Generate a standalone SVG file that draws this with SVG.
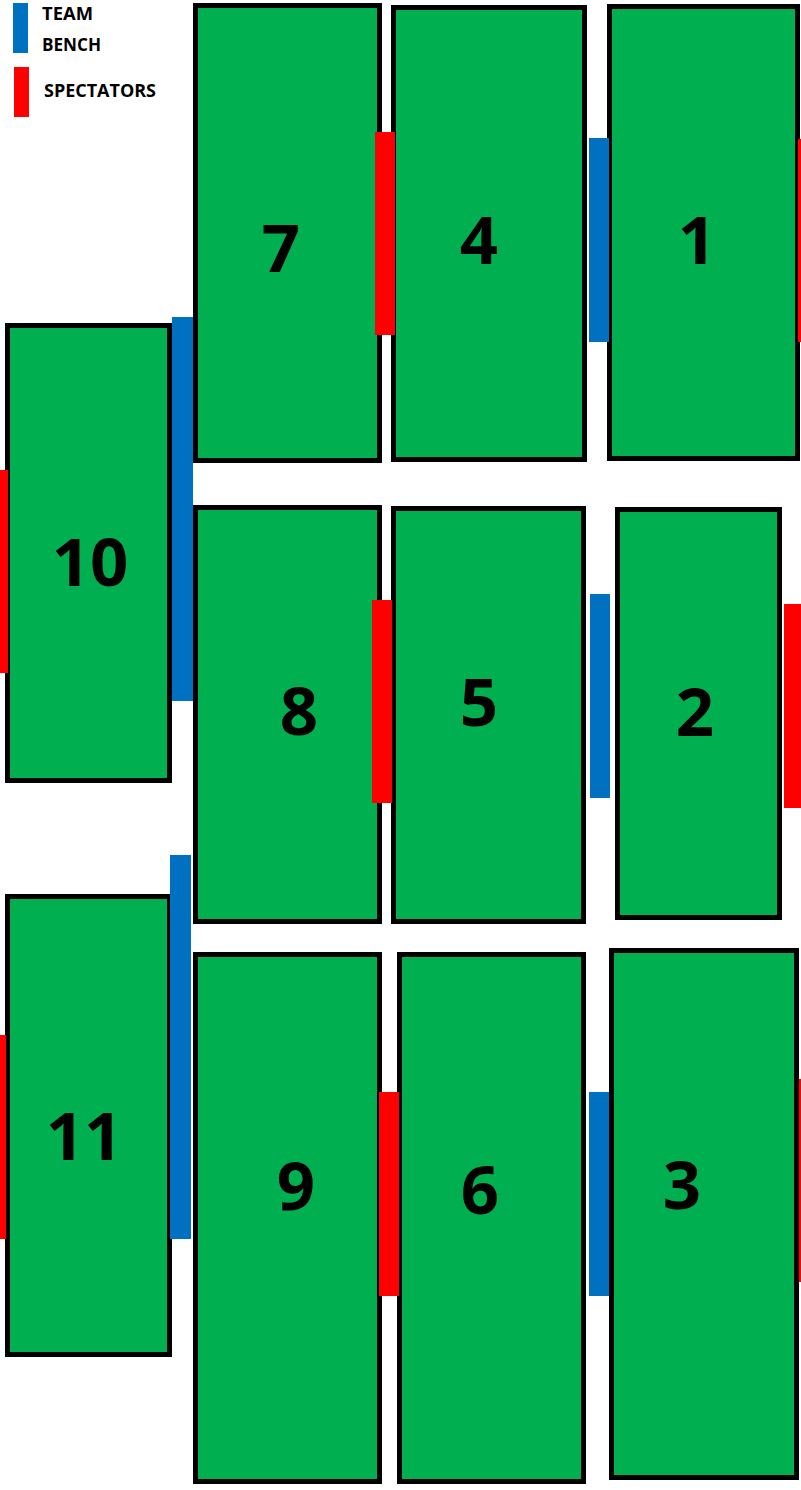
<svg xmlns="http://www.w3.org/2000/svg" width="801" height="1490" viewBox="0 0 801 1490">
<style>
.field{fill:#00B050;stroke:#000;stroke-width:5}
.num{font-family:"Open Sans","DejaVu Sans",sans-serif;font-weight:bold;font-size:67px;fill:#000;text-anchor:middle}
.leg{font-family:"Open Sans","DejaVu Sans",sans-serif;font-weight:bold;font-size:17px;fill:#000}
.bench{fill:#0070C0}
.spec{fill:#FF0000}
</style>
<rect width="801" height="1490" fill="#fff"/>
<g id="legend">
<rect class="bench" x="13" y="3" width="15" height="50"/>
<rect class="spec" x="14" y="67" width="15" height="50"/>
<text class="leg" x="42" y="20" textLength="51" lengthAdjust="spacingAndGlyphs">TEAM</text>
<text class="leg" x="42" y="51" textLength="59" lengthAdjust="spacingAndGlyphs">BENCH</text>
<text class="leg" x="44" y="97" textLength="112" lengthAdjust="spacingAndGlyphs">SPECTATORS</text>
</g>
<g id="field7"><rect class="field" x="195.5" y="5.5" width="184" height="455"/><text class="num" x="281" y="272">7</text></g>
<g id="field4"><rect class="field" x="393.5" y="7.5" width="191" height="452"/><text class="num" x="479" y="264">4</text></g>
<g id="field1"><rect class="field" x="609.5" y="6.5" width="188" height="452"/><text class="num" x="697" y="264">1</text></g>
<g id="field10"><rect class="field" x="7.5" y="325.5" width="162" height="455"/><text class="num" x="90" y="586">10</text></g>
<g id="field8"><rect class="field" x="195.5" y="507.5" width="184" height="414"/><text class="num" x="299" y="735">8</text></g>
<g id="field5"><rect class="field" x="393.5" y="508.5" width="190" height="413"/><text class="num" x="479" y="726">5</text></g>
<g id="field2"><rect class="field" x="617.5" y="509.5" width="162" height="408"/><text class="num" x="695" y="736">2</text></g>
<g id="field11"><rect class="field" x="7.5" y="896.5" width="162" height="458"/><text class="num" x="84" y="1160">11</text></g>
<g id="field9"><rect class="field" x="195.5" y="954.5" width="184" height="527"/><text class="num" x="296" y="1210">9</text></g>
<g id="field6"><rect class="field" x="399.5" y="954.5" width="184" height="527"/><text class="num" x="480" y="1214">6</text></g>
<g id="field3"><rect class="field" x="611.5" y="950.5" width="185" height="527"/><text class="num" x="682" y="1209">3</text></g>
<g id="strips">
<rect class="spec" x="375" y="132" width="20" height="203"/>
<rect class="bench" x="589" y="138" width="20" height="204"/>
<rect class="spec" x="798" y="139" width="3" height="203"/>
<rect class="bench" x="172" y="317" width="21" height="384"/>
<rect class="spec" x="0" y="470" width="8" height="203"/>
<rect class="spec" x="372" y="600" width="20" height="203"/>
<rect class="bench" x="590" y="594" width="20" height="204"/>
<rect class="spec" x="784" y="604" width="17" height="204"/>
<rect class="bench" x="170" y="855" width="21" height="384"/>
<rect class="spec" x="0" y="1035" width="6" height="204"/>
<rect class="spec" x="379" y="1092" width="20" height="204"/>
<rect class="bench" x="589" y="1092" width="20" height="204"/>
<rect class="spec" x="799" y="1079" width="2" height="203"/>
</g>
</svg>
